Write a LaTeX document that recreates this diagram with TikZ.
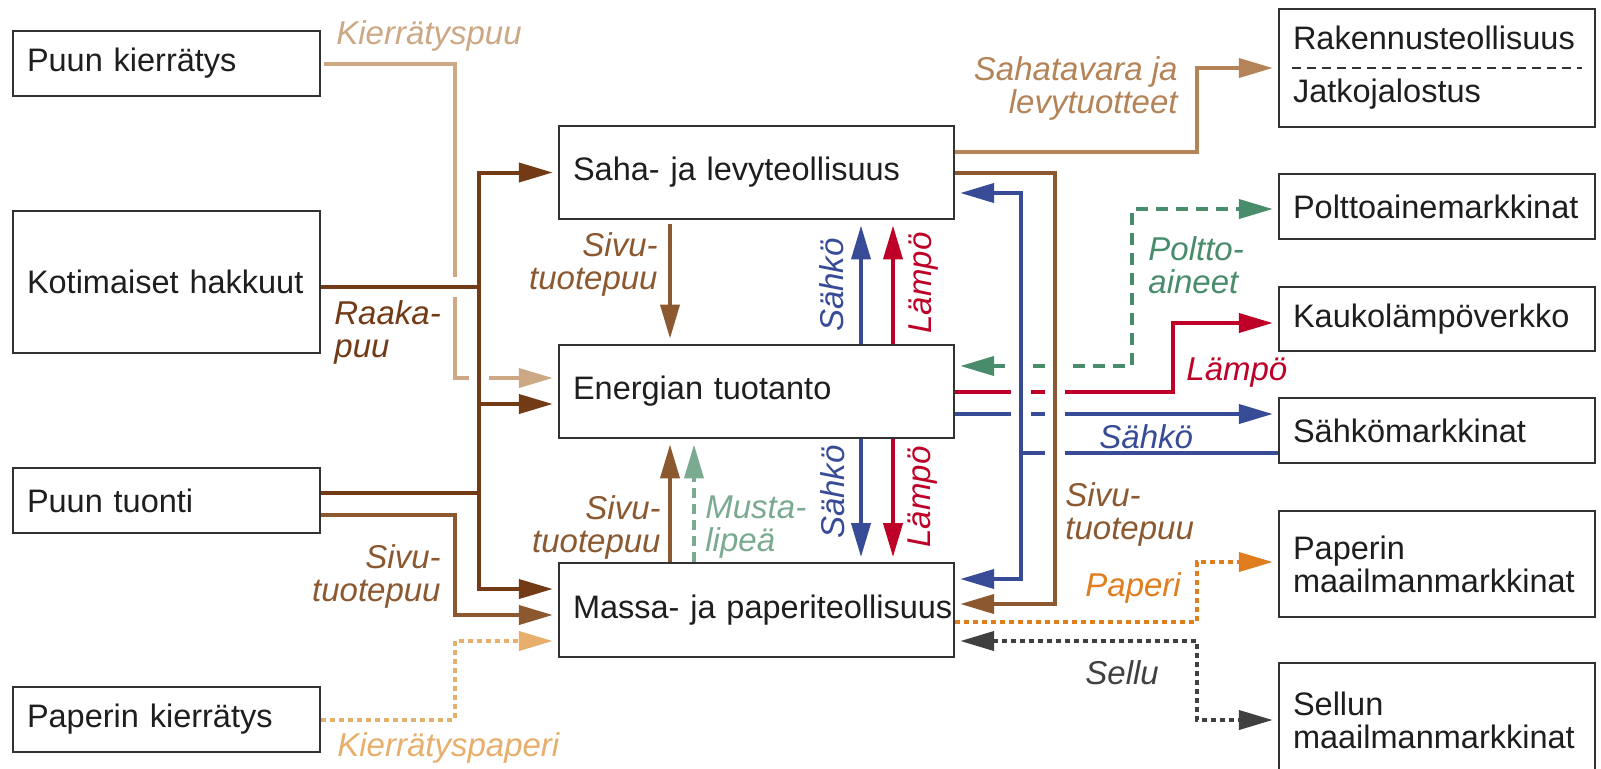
\documentclass[tikz,border=0pt]{standalone}
\usepackage{fontspec}
\setmainfont{Liberation Sans}
\usetikzlibrary{arrows.meta}

\definecolor{boxc}{RGB}{50,50,50}
\definecolor{txtc}{RGB}{30,30,30}
\definecolor{kpuuc}{RGB}{205,168,132}
\definecolor{raakac}{RGB}{115,58,22}
\definecolor{sivuc}{RGB}{140,88,48}
\definecolor{sahatc}{RGB}{181,131,88}
\definecolor{kpaperic}{RGB}{232,174,108}
\definecolor{paperic}{RGB}{224,125,30}
\definecolor{selluc}{RGB}{64,64,64}
\definecolor{sahkoc}{RGB}{55,75,150}
\definecolor{lampoc}{RGB}{190,0,40}
\definecolor{polttoc}{RGB}{72,140,108}
\definecolor{mustac}{RGB}{122,170,143}

\begin{document}
\begin{tikzpicture}[x=0.5pt,y=-0.5pt,
  box/.style={draw=boxc,line width=1.2pt,fill=white,text=txtc,align=left,
    inner xsep=7pt,inner ysep=0pt,text width=#1,font=\fontsize{16.25}{16.5}\selectfont,
    execute at begin node={\hyphenpenalty=10000\exhyphenpenalty=10000\hbadness=10000\hfuzz=20pt}},
  lbl/.style={inner sep=0pt,font=\fontsize{16.5}{16.5}\selectfont\itshape},
  flow/.style={line width=2pt},
  arr/.style={-{Triangle[length=17pt,width=9.5pt]},shorten >=2.5pt},
  darr/.style={{Triangle[length=17pt,width=9.5pt]}-{Triangle[length=17pt,width=9.5pt]},shorten >=2.5pt,shorten <=2.5pt},
  dots/.style={dash pattern=on 2.5pt off 2pt},
  halo/.style={draw=white,line width=10pt}]
  \useasboundingbox (0,0) rectangle (1601,768);
  \clip (0,0) rectangle (1601,768);
  \fill[white] (0,0) rectangle (1601,768);

% sources
  \foreach \n/\y/\h/\t in {pkierr/63.5/32.5/Puun~kierrätys,kotim/282/71/Kotimaiset~hakkuut,
      tuonti/500.5/32.5/Puun~tuonti,ppkierr/719.5/32.5/Paperin~kierrätys}{
    \node[box=139.5pt,minimum height=\h pt] (\n) at (166.5,\y) {\t};
  }

% industries
  \foreach \n/\y/\t in {saha/172.5/Saha-~ja~levyteollisuus,energia/391.5/Energian~tuotanto,
      massa/610/Massa-~ja~paperiteollisuus}{
    \node[box=183.5pt,minimum height=46.75pt] (\n) at (756.5,\y) {\t};
  }

% markets
  \node[box=144pt,minimum height=59pt] (rakennus) at (1437,68) {Rakennusteollisuus\\[10pt]Jatkojalostus};
  \draw[draw=boxc,line width=0.7pt,dash pattern=on 4.5pt off 3pt]
    ([xshift=7pt]rakennus.west) -- ([xshift=-7pt]rakennus.east);
  \foreach \n/\y/\h/\t in {poltto/206.5/32.5/Polttoainemarkkinat,kauko/319/32/Kaukolämpöverkko,
      sahkom/430.5/32.5/Sähkömarkkinat,paperim/564/53/{Paperin\\maailmanmarkkinat},
      sellum/720/57/{Sellun\\maailmanmarkkinat}}{
    \node[box=144pt,minimum height=\h pt] (\n) at (1437,\y) {\t};
  }

% recycled wood and paper
  \coordinate (kpb) at (455,63.5);
  \coordinate (pb) at (455,719.5);
  \draw[flow,arr,draw=kpuuc,shorten <=1.5pt] (pkierr.east) -- (kpb) |- ([yshift=6.75pt]energia.west);
  \draw[flow,arr,draw=kpaperic,dots] (ppkierr.east) -- (pb) |- ([yshift=-15.5pt]massa.west);

% raw wood
  \coordinate (rk) at (479,287);
  \coordinate (rt) at (479,493);
  \coordinate (sb) at (455,515);
  \draw[halo] (kotim.east |- rk) -- (rk);
  \draw[halo] (rk |- saha.west) -- (rt |- massa.north);
  \draw[flow,draw=raakac] (kotim.east |- rk) -- (rk) -- (rt);
  \draw[flow,draw=raakac] (tuonti.east |- rt) -- (rt);
  \draw[flow,arr,draw=raakac] (rk) |- (saha.west);
  \draw[flow,arr,draw=raakac] (rk) |- ([yshift=-6.25pt]energia.west);
  \draw[flow,arr,draw=raakac] (rt) |- ([yshift=10.5pt]massa.west);
  \draw[flow,arr,draw=sivuc] ([yshift=-7.25pt]tuonti.east) -- (sb) |- ([yshift=-2.5pt]massa.west);

% between the industries
  \draw[flow,arr,draw=sivuc,shorten <=2pt] ([xshift=-43.25pt]saha.south) -- ([xshift=-43.25pt]energia.north);
  \draw[flow,arr,draw=sivuc] ([xshift=-43.25pt]massa.north) -- ([xshift=-43.25pt]energia.south);
  \draw[flow,arr,draw=mustac,dash pattern=on 5pt off 3pt] ([xshift=-31.25pt]massa.north) -- ([xshift=-31.25pt]energia.south);
  \foreach \s/\c in {52.25/sahkoc,68.25/lampoc}{
    \draw[flow,arr,draw=\c] ([xshift=\s pt]energia.north) -- ([xshift=\s pt]saha.south);
    \draw[flow,arr,draw=\c] ([xshift=\s pt]energia.south) -- ([xshift=\s pt]massa.north);
  }

% products to markets
  \coordinate (sbend) at (1197,152);
  \coordinate (gbend) at (1132,366);
  \coordinate (rbend) at (1173,391.5);
  \coordinate (bo) at ([yshift=-11.25pt]energia.east);
  \draw[flow,arr,draw=sahatc] ([yshift=10.25pt]saha.east) -- (sbend) |- (rakennus.west);
  \draw[flow,darr,draw=polttoc,dash pattern=on 6pt off 4pt] ([yshift=12.75pt]energia.east) -- (gbend) |- ([yshift=-1.25pt]poltto.west);
  \draw[flow,arr,draw=lampoc] (energia.east) -- (rbend) |- ([yshift=-2pt]kauko.west);
  \draw[flow,arr,draw=sahkoc] (bo) -- (bo -| sahkom.west);

% electricity back and side wood
  \coordinate (bj) at (1021,453);
  \coordinate (bbot) at (1055,604);
  \draw[halo] (bj |- saha.south) -- (bj |- massa.north);
  \draw[flow,arr,draw=sahkoc] ([yshift=-11.25pt]sahkom.west) -- (bj) |- ([yshift=-10.25pt]saha.east);
  \draw[flow,arr,draw=sahkoc] (bj) |- ([yshift=15.5pt]massa.east);
  \draw[halo] (bbot |- saha.south) -- (bbot |- massa.north);
  \draw[flow,arr,draw=sivuc] (saha.east) -| (bbot) -- ([yshift=3pt]massa.east);

% paper and pulp
  \coordinate (pbend) at (1197,622);
  \coordinate (cbend) at (1197,641);
  \draw[flow,arr,draw=paperic,dots] ([yshift=-6pt]massa.east) -- (pbend) |- ([yshift=1pt]paperim.west);
  \draw[flow,darr,draw=selluc,dots] ([yshift=-15.5pt]massa.east) -- (cbend) |- (sellum.west);

% labels
  \node[lbl,text=kpuuc,anchor=west] (lkpuu) at (336,36) {Kierrätyspuu};
  \node[lbl,text=raakac,anchor=west,align=left] (lraaka) at (334,332) {Raaka-\\puu};
  \node[lbl,text=sivuc,anchor=east,align=right] (lsivua) at (658,264) {Sivu-\\tuotepuu};
  \node[lbl,text=sivuc,anchor=east,align=right] (lsivub) at (661,527) {Sivu-\\tuotepuu};
  \node[lbl,text=sivuc,anchor=east,align=right] (lsivuc) at (441,576) {Sivu-\\tuotepuu};
  \node[lbl,text=sivuc,anchor=west,align=left] (lsivud) at (1065,514) {Sivu-\\tuotepuu};
  \node[lbl,text=mustac,anchor=west,align=left] (lmusta) at (705,527) {Musta-\\lipeä};
  \node[lbl,text=sahkoc,rotate=90] (lsahkoa) at (832,285) {Sähkö};
  \node[lbl,text=lampoc,rotate=90] (llampoa) at (924,283) {Lämpö};
  \node[lbl,text=sahkoc,rotate=90] (lsahkob) at (833,492) {Sähkö};
  \node[lbl,text=lampoc,rotate=90] (llampob) at (923,497) {Lämpö};
  \node[lbl,text=sahatc,anchor=east,align=right] (lsahat) at (1178,88) {Sahatavara ja\\levytuotteet};
  \node[lbl,text=polttoc,anchor=west,align=left] (lpoltto) at (1148,265) {Poltto-\\aineet};
  \node[lbl,text=lampoc,anchor=west] (llampoc) at (1186,373) {Lämpö};
  \node[lbl,text=sahkoc,anchor=west] (lsahkoc) at (1099,437) {Sähkö};
  \node[lbl,text=paperic,anchor=west] (lpaperi) at (1085,588) {Paperi};
  \node[lbl,text=selluc,anchor=west] (lsellu) at (1085,673) {Sellu};
  \node[lbl,text=kpaperic,anchor=west] (lkpaperi) at (337,748) {Kierrätyspaperi};
\end{tikzpicture}
\end{document}
